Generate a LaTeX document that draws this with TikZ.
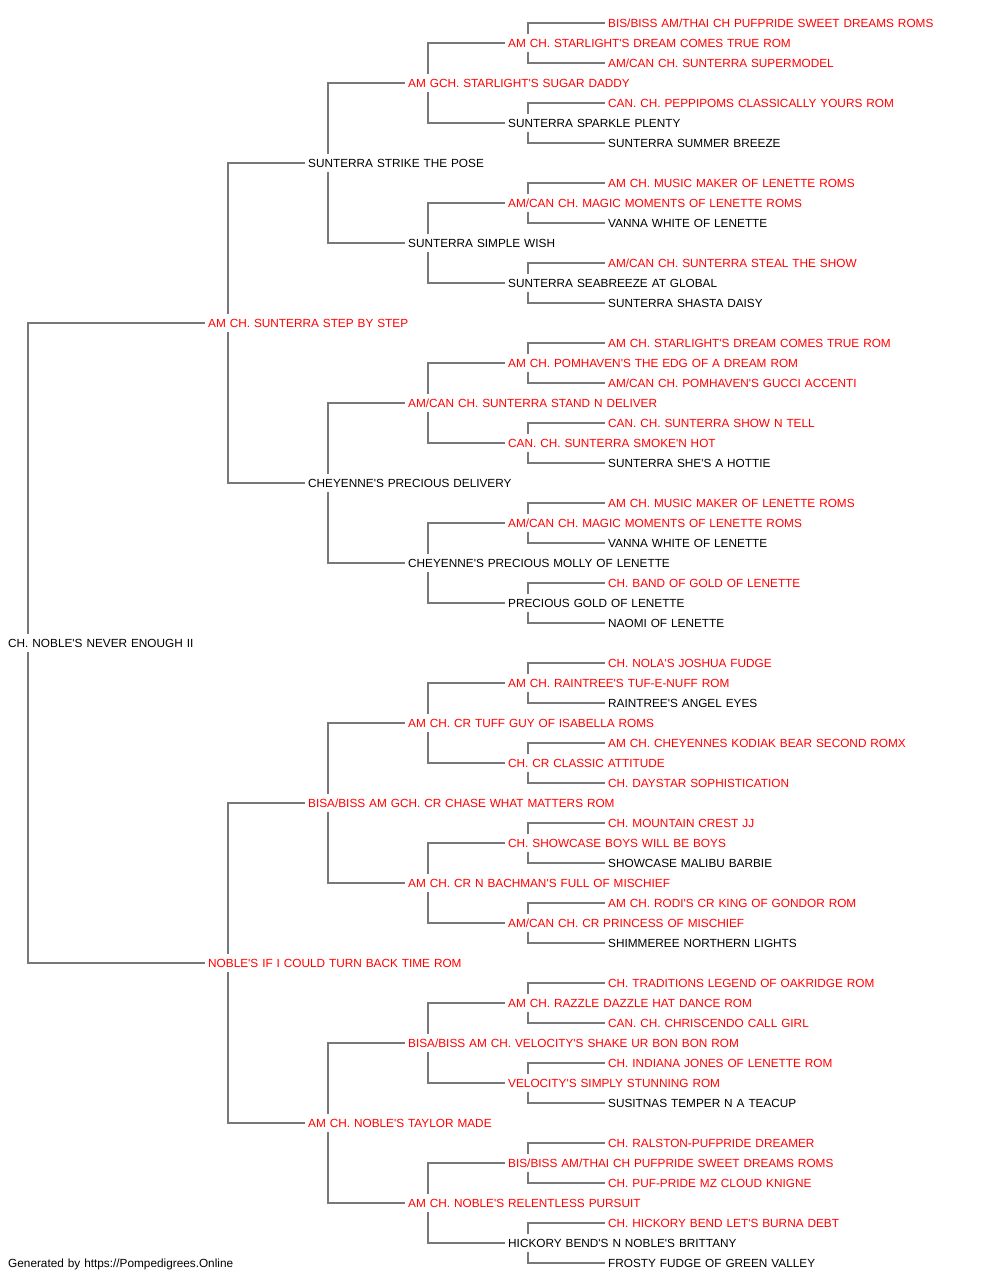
\documentclass[tikz,border=0pt]{standalone}
\usepackage{fontspec}
\newfontfamily\pedfont{Liberation Sans}
\usetikzlibrary{calc}
\definecolor{titlered}{RGB}{255,0,0}
\definecolor{bracketgray}{RGB}{120,120,120}

\begin{document}
\begin{tikzpicture}[x=1pt,y=1pt,grow'=right,level distance=100pt,
    every node/.style={inner xsep=3pt,inner ysep=0pt,text width=360pt,align=left,
      text height=8.5pt,text depth=0pt,font=\pedfont\fontsize{11.8}{14}\selectfont},
    titled/.style={text=titlered},
    edge from parent/.style={draw=bracketgray,line width=2pt},
    edge from parent path={let \p1=(\tikzparentnode.west), \p2=(\tikzchildnode.west) in
      ({\x1+23pt},{\y1+9pt*sign(\y2-\y1)}) |- (\p2)}]
  \useasboundingbox (0,0) rectangle (1000,1280);
  \tikzstyle{level 1}=[sibling distance=640pt,level distance=200pt]
  \tikzstyle{level 2}=[sibling distance=320pt,level distance=100pt]
  \tikzstyle{level 3}=[sibling distance=160pt]
  \tikzstyle{level 4}=[sibling distance=80pt]
  \tikzstyle{level 5}=[sibling distance=40pt]
  \node[anchor=west] (dog) at (5,637) {CH. NOBLE'S NEVER ENOUGH II}
  child {node[titled] (s) {AM CH. SUNTERRA STEP BY STEP}
    child {node (ss) {SUNTERRA STRIKE THE POSE}
      child {node[titled] (sss) {AM GCH. STARLIGHT'S SUGAR DADDY}
        child {node[titled] (ssss) {AM CH. STARLIGHT'S DREAM COMES TRUE ROM}
          child {node[titled] (sssss) {BIS/BISS AM/THAI CH PUFPRIDE SWEET DREAMS ROMS}}
          child {node[titled] (ssssd) {AM/CAN CH. SUNTERRA SUPERMODEL}}}
        child {node (sssd) {SUNTERRA SPARKLE PLENTY}
          child {node[titled] (sssds) {CAN. CH. PEPPIPOMS CLASSICALLY YOURS ROM}}
          child {node (sssdd) {SUNTERRA SUMMER BREEZE}}}}
      child {node (ssd) {SUNTERRA SIMPLE WISH}
        child {node[titled] (ssds) {AM/CAN CH. MAGIC MOMENTS OF LENETTE ROMS}
          child {node[titled] (ssdss) {AM CH. MUSIC MAKER OF LENETTE ROMS}}
          child {node (ssdsd) {VANNA WHITE OF LENETTE}}}
        child {node (ssdd) {SUNTERRA SEABREEZE AT GLOBAL}
          child {node[titled] (ssdds) {AM/CAN CH. SUNTERRA STEAL THE SHOW}}
          child {node (ssddd) {SUNTERRA SHASTA DAISY}}}}}
    child {node (sd) {CHEYENNE'S PRECIOUS DELIVERY}
      child {node[titled] (sds) {AM/CAN CH. SUNTERRA STAND N DELIVER}
        child {node[titled] (sdss) {AM CH. POMHAVEN'S THE EDG OF A DREAM ROM}
          child {node[titled] (sdsss) {AM CH. STARLIGHT'S DREAM COMES TRUE ROM}}
          child {node[titled] (sdssd) {AM/CAN CH. POMHAVEN'S GUCCI ACCENTI}}}
        child {node[titled] (sdsd) {CAN. CH. SUNTERRA SMOKE'N HOT}
          child {node[titled] (sdsds) {CAN. CH. SUNTERRA SHOW N TELL}}
          child {node (sdsdd) {SUNTERRA SHE'S A HOTTIE}}}}
      child {node (sdd) {CHEYENNE'S PRECIOUS MOLLY OF LENETTE}
        child {node[titled] (sdds) {AM/CAN CH. MAGIC MOMENTS OF LENETTE ROMS}
          child {node[titled] (sddss) {AM CH. MUSIC MAKER OF LENETTE ROMS}}
          child {node (sddsd) {VANNA WHITE OF LENETTE}}}
        child {node (sddd) {PRECIOUS GOLD OF LENETTE}
          child {node[titled] (sddds) {CH. BAND OF GOLD OF LENETTE}}
          child {node (sdddd) {NAOMI OF LENETTE}}}}}}
  child {node[titled] (d) {NOBLE'S IF I COULD TURN BACK TIME ROM}
    child {node[titled] (ds) {BISA/BISS AM GCH. CR CHASE WHAT MATTERS ROM}
      child {node[titled] (dss) {AM CH. CR TUFF GUY OF ISABELLA ROMS}
        child {node[titled] (dsss) {AM CH. RAINTREE'S TUF-E-NUFF ROM}
          child {node[titled] (dssss) {CH. NOLA'S JOSHUA FUDGE}}
          child {node (dsssd) {RAINTREE'S ANGEL EYES}}}
        child {node[titled] (dssd) {CH. CR CLASSIC ATTITUDE}
          child {node[titled] (dssds) {AM CH. CHEYENNES KODIAK BEAR SECOND ROMX}}
          child {node[titled] (dssdd) {CH. DAYSTAR SOPHISTICATION}}}}
      child {node[titled] (dsd) {AM CH. CR N BACHMAN'S FULL OF MISCHIEF}
        child {node[titled] (dsds) {CH. SHOWCASE BOYS WILL BE BOYS}
          child {node[titled] (dsdss) {CH. MOUNTAIN CREST JJ}}
          child {node (dsdsd) {SHOWCASE MALIBU BARBIE}}}
        child {node[titled] (dsdd) {AM/CAN CH. CR PRINCESS OF MISCHIEF}
          child {node[titled] (dsdds) {AM CH. RODI'S CR KING OF GONDOR ROM}}
          child {node (dsddd) {SHIMMEREE NORTHERN LIGHTS}}}}}
    child {node[titled] (dd) {AM CH. NOBLE'S TAYLOR MADE}
      child {node[titled] (dds) {BISA/BISS AM CH. VELOCITY'S SHAKE UR BON BON ROM}
        child {node[titled] (ddss) {AM CH. RAZZLE DAZZLE HAT DANCE ROM}
          child {node[titled] (ddsss) {CH. TRADITIONS LEGEND OF OAKRIDGE ROM}}
          child {node[titled] (ddssd) {CAN. CH. CHRISCENDO CALL GIRL}}}
        child {node[titled] (ddsd) {VELOCITY'S SIMPLY STUNNING ROM}
          child {node[titled] (ddsds) {CH. INDIANA JONES OF LENETTE ROM}}
          child {node (ddsdd) {SUSITNAS TEMPER N A TEACUP}}}}
      child {node[titled] (ddd) {AM CH. NOBLE'S RELENTLESS PURSUIT}
        child {node[titled] (ddds) {BIS/BISS AM/THAI CH PUFPRIDE SWEET DREAMS ROMS}
          child {node[titled] (dddss) {CH. RALSTON-PUFPRIDE DREAMER}}
          child {node[titled] (dddsd) {CH. PUF-PRIDE MZ CLOUD KNIGNE}}}
        child {node (dddd) {HICKORY BEND'S N NOBLE'S BRITTANY}
          child {node[titled] (dddds) {CH. HICKORY BEND LET'S BURNA DEBT}}
          child {node (ddddd) {FROSTY FUDGE OF GREEN VALLEY}}}}}};
  % footer
  \node[anchor=west] (footer) at (5,16.5) {Generated by https://Pompedigrees.Online};
\end{tikzpicture}
\end{document}
